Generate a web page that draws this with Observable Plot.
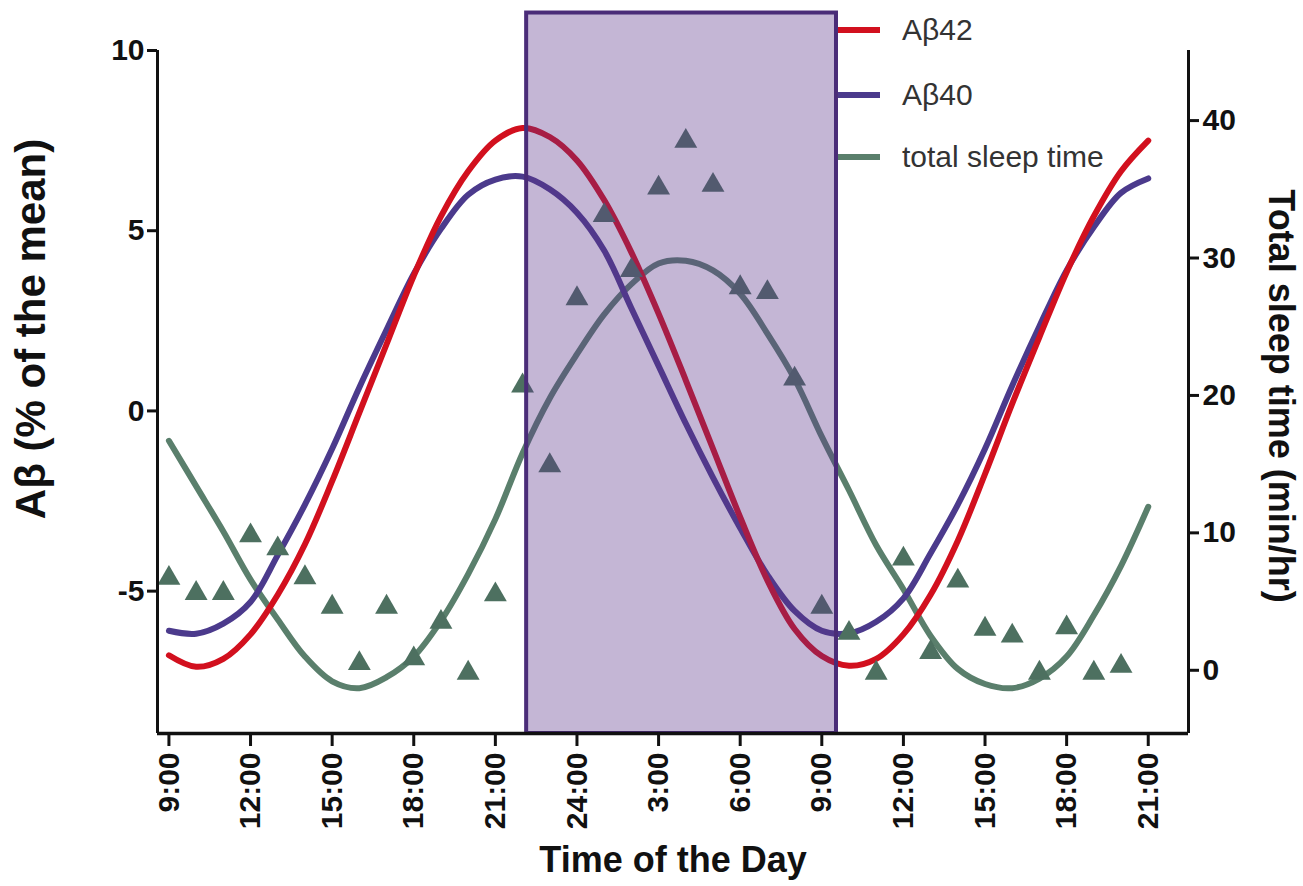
<!DOCTYPE html>
<html><head><meta charset="utf-8">
<script src="https://cdn.jsdelivr.net/npm/d3@7"></script>
<script src="https://cdn.jsdelivr.net/npm/@observablehq/plot@0.6"></script>
<style>
body{margin:0;background:#fff;}
#wrap{position:relative;width:1303px;height:886px;overflow:hidden;}
.legend{position:absolute;left:838px;top:0;font-family:"Liberation Sans",Arial,sans-serif;font-size:30px;color:#333;}
.item{position:absolute;left:0;display:flex;align-items:center;white-space:nowrap;height:34px;}
.sw{width:42px;height:6px;margin-right:22px;}
</style></head><body><div id="wrap"></div>
<script>
// ---- data ----
const hours = [9,10,11,12,13,14,15,16,17,18,19,20,21,22,23,24,25,26,27,28,29,30,31,32,33,34,35,36,37,38,39,40,41,42,43,44,45];
const abeta42 = [-6.78,-7.1,-6.88,-6.2,-5.1,-3.7,-1.95,-0.05,1.85,3.75,5.4,6.65,7.5,7.85,7.6,6.95,5.85,4.4,2.7,0.85,-1.05,-2.95,-4.7,-6.05,-6.8,-7.07,-6.88,-6.2,-5.1,-3.6,-1.75,0.2,2.05,3.85,5.4,6.65,7.5];
const abeta40 = [-6.1,-6.18,-5.9,-5.3,-4.0,-2.6,-1.05,0.65,2.25,3.8,5.05,6.0,6.42,6.5,6.15,5.5,4.45,2.85,1.25,-0.35,-1.85,-3.25,-4.55,-5.55,-6.1,-6.17,-5.85,-5.2,-3.95,-2.6,-1.05,0.7,2.35,3.9,5.1,6.05,6.45];
const sleepFit = [16.7,13.4,10.1,6.6,3.7,1.0,-0.8,-1.3,-0.5,1.0,3.6,7.0,11.0,15.8,19.8,23.0,25.9,28.1,29.6,29.8,29.1,27.4,24.5,21.2,17.0,13.1,9.1,5.9,2.5,0.1,-1.0,-1.3,-0.6,1.0,4.0,7.6,11.9];
const obsHours = [9,10,11,12,13,14,15,16,17,18,19,20,21,22,23,24,25,26,27,28,29,30,31,32,33,34,35,36,37,38,39,40,41,42,43,44];
const sleepObs = [6.7,5.6,5.6,9.8,8.85,6.75,4.6,0.5,4.6,0.85,3.5,-0.2,5.5,20.7,14.9,27.05,33.1,29.1,35.1,38.5,35.3,27.85,27.5,21.2,4.6,2.7,-0.2,8.1,1.3,6.5,3.0,2.5,-0.2,3.1,-0.2,0.3];
const nightBand = [{start: 22.15, end: 33.54}];
const bandTop = 11.04;
const xTicks = [9,12,15,18,21,24,27,30,33,36,39,42,45];
const xTickLabels = ["9:00","12:00","15:00","18:00","21:00","24:00","3:00","6:00","9:00","12:00","15:00","18:00","21:00"];
const leftTicks = [-5,0,5,10];
const leftTickLabels = ["-5","0","5","10"];
const rightTicks = [0,10,20,30,40];
const rightTickLabels = ["0","10","20","30","40"];
const seriesNames = ["Aβ42","Aβ40","total sleep time"];
const seriesColors = ["#d2101e","#4b3a8c","#5a7f6c"];

// ---- scales ----
const xDomain = [8.58, 46.48];
const yDomain = [-8.95, 10];
const rightDomain = [-4.6, 45.1];
const toLeft = v => yDomain[0] + (v - rightDomain[0]) * (yDomain[1] - yDomain[0]) / (rightDomain[1] - rightDomain[0]);
const rightTicksLeft = rightTicks.map(toLeft);

const rows = hours.map((h, i) => ({h, a42: abeta42[i], a40: abeta40[i], sleep: toLeft(sleepFit[i])}));
const obs = obsHours.map((h, i) => ({h, v: toLeft(sleepObs[i])}));

const FONT = '"Liberation Sans", Arial, sans-serif';
const axisCommon = {fontSize: 30, fontWeight: "bold", strokeWidth: 3, label: null, fill: "#111", stroke: "#111"};

const chart = Plot.plot({
  width: 1303,
  height: 886,
  marginLeft: 157,
  marginRight: 115,
  marginTop: 50,
  marginBottom: 153,
  style: {fontFamily: FONT, background: "#fff", overflow: "visible"},
  x: {domain: xDomain},
  y: {domain: yDomain},
  marks: [
    Plot.line(rows, {x: "h", y: "sleep", stroke: seriesColors[2], strokeWidth: 6, curve: "catmull-rom", strokeLinecap: "round"}),
    Plot.line(rows, {x: "h", y: "a40", stroke: seriesColors[1], strokeWidth: 6, curve: "catmull-rom", strokeLinecap: "round"}),
    Plot.line(rows, {x: "h", y: "a42", stroke: seriesColors[0], strokeWidth: 6, curve: "catmull-rom", strokeLinecap: "round"}),
    Plot.dot(obs, {x: "h", y: "v", symbol: "triangle", r: 8.5, fill: "#4d7060", stroke: "none"}),
    Plot.rect(nightBand, {x1: "start", x2: "end", y1: () => yDomain[0], y2: () => bandTop, fill: "#5c348a", fillOpacity: 0.36, stroke: "#4a2c78", strokeWidth: 4}),
    Plot.ruleX([xDomain[0], xDomain[1]], {y1: yDomain[0], y2: yDomain[1], stroke: "#111", strokeWidth: 3}),
    Plot.ruleY([yDomain[0]], {x1: xDomain[0], x2: xDomain[1], stroke: "#111", strokeWidth: 3.5}),
    Plot.axisY({...axisCommon, anchor: "left", ticks: leftTicks, tickFormat: d => leftTickLabels[leftTicks.indexOf(d)], tickSize: 10, tickPadding: 3}),
    Plot.axisY({...axisCommon, anchor: "right", ticks: rightTicksLeft, tickFormat: d => rightTickLabels[rightTicksLeft.indexOf(d)], tickSize: 10, tickPadding: 4}),
    Plot.axisX({...axisCommon, anchor: "bottom", ticks: xTicks, tickFormat: d => xTickLabels[xTicks.indexOf(d)], tickRotate: -90, tickSize: 13, tickPadding: 6}),
    Plot.text(["Time of the Day"], {text: d => d, frameAnchor: "bottom", dy: 138, fontSize: 36, fontWeight: "bold", fill: "#111"}),
    Plot.text(["Aβ (% of the mean)"], {text: d => d, frameAnchor: "left", textAnchor: "middle", rotate: -90, dx: -126, dy: -63, fontSize: 42, fontWeight: "bold", fill: "#111"}),
    Plot.text(["Total sleep time (min/hr)"], {text: d => d, frameAnchor: "right", textAnchor: "middle", rotate: 90, dx: 92, dy: 4, fontSize: 36, fontWeight: "bold", fill: "#111"})
  ]
});

const wrap = document.getElementById("wrap");
wrap.appendChild(chart);

// legend overlay
const legend = document.createElement("div");
legend.className = "legend";
const legendTops = [13, 78, 140];
seriesNames.forEach((name, i) => {
  const item = document.createElement("div");
  item.className = "item";
  item.style.top = legendTops[i] + "px";
  const sw = document.createElement("span");
  sw.className = "sw";
  sw.style.background = seriesColors[i];
  const t = document.createElement("span");
  t.textContent = name;
  item.appendChild(sw);
  item.appendChild(t);
  legend.appendChild(item);
});
wrap.appendChild(legend);
</script></body></html>
